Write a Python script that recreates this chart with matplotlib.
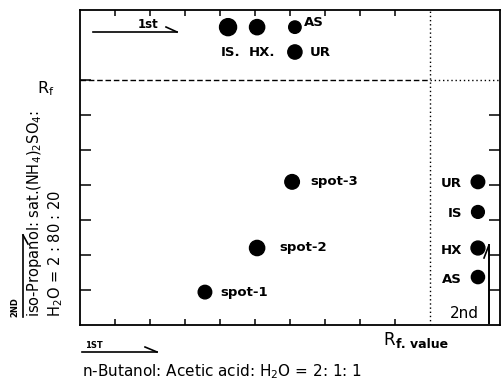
import matplotlib
matplotlib.use("Agg")
import matplotlib.pyplot as plt
from matplotlib.lines import Line2D

# ---- data (Rf values) ----
spot_names = ["spot-1", "spot-2", "spot-3"]
spot_x = [0.357, 0.506, 0.606]
spot_y = [0.094, 0.220, 0.409]

top_std_names = ["IS", "HX", "AS", "UR"]
top_std_x = [0.423, 0.506, 0.614, 0.614]
top_std_y = [0.851, 0.851, 0.851, 0.780]

right_std_names = ["UR", "IS", "HX", "AS"]
right_std_x = [1.137, 1.137, 1.137, 1.137]
right_std_y = [0.409, 0.323, 0.220, 0.137]

x_ticks = [0.1, 0.2, 0.3, 0.4, 0.5, 0.6, 0.7, 0.8, 0.9]
y_ticks = [0.1, 0.2, 0.3, 0.4, 0.5, 0.6, 0.7]
right_ticks = [0.1, 0.2, 0.3, 0.4, 0.5, 0.6]
solvent_front_1st = 1.0
solvent_front_2nd = 0.7

W, H = 502, 382
fig = plt.figure(figsize=(W / 100, H / 100), dpi=100)
plt.rcParams['font.family'] = ['DejaVu Sans']

def fx(x):
    return x / W

def fy(y):
    return 1 - y / H

ax = fig.add_axes([fx(80), fy(325), (500 - 80) / W, (325 - 10) / H])
ax.set_xlim(0, 1.2)
ax.set_ylim(0, 0.9)
for s in ax.spines.values():
    s.set_linewidth(1.3)

ax.set_xticks(x_ticks)
ax.set_yticks(y_ticks)
ax.tick_params(axis='x', direction='in', length=4, width=1.1, top=True, bottom=True,
               labelbottom=False)
ax.tick_params(axis='y', direction='in', length=8, width=1.1, left=True, right=False,
               labelleft=False)

# right-side ticks
axr = ax.twinx()
axr.set_ylim(0, 0.9)
axr.set_yticks(right_ticks)
axr.tick_params(axis='y', direction='in', length=8, width=1.1, labelright=False)
for s in axr.spines.values():
    s.set_visible(False)

# solvent fronts
ax.axvline(solvent_front_1st, color='black', lw=1.0, ls=(0, (1, 2)))
ax.plot([0, solvent_front_1st], [solvent_front_2nd, solvent_front_2nd], color='black',
        lw=1.0, ls=(0, (4, 2)))
ax.plot([solvent_front_1st, 1.2], [solvent_front_2nd, solvent_front_2nd], color='black',
        lw=1.0, ls=(0, (1, 2)))

# spots
ax.scatter(spot_x, spot_y, s=[95, 120, 110], c='black', zorder=3)
ax.scatter(top_std_x, top_std_y, s=[150, 120, 80, 105], c='black', zorder=3)
ax.scatter(right_std_x, right_std_y, s=[95, 85, 100, 90], c='black', zorder=3)

fs = 9.5
spot_off = [15, 22, 18]
for n, x, y, o in zip(spot_names, spot_x, spot_y, spot_off):
    ax.annotate(n, (x, y), xytext=(o, 0), textcoords='offset pixels',
                ha='left', va='center', fontsize=fs, fontweight='bold')

# top standards labels
top_offsets = [(3, -25, 'center'), (5, -25, 'center'), (9, 5, 'left'), (15, 0, 'left')]
top_labels = ["IS.", "HX.", "AS", "UR"]
for lab, x, y, (ox, oy, ha) in zip(top_labels, top_std_x, top_std_y, top_offsets):
    ax.annotate(lab, (x, y), xytext=(ox, oy), textcoords='offset pixels',
                ha=ha, va='center', fontsize=fs, fontweight='bold')

for n, x, y in zip(right_std_names, right_std_x, right_std_y):
    ax.annotate(n, (x, y), xytext=(-16, -2), textcoords='offset pixels',
                ha='right', va='center', fontsize=fs, fontweight='bold')

# ---- free text ----
fig.text(fx(37), fy(89), r'R$_\mathregular{f}$', fontsize=11.5, ha='left', va='center')
fig.text(fx(383), fy(340), 'R', fontsize=12, ha='left', va='center')
fig.text(fx(396), fy(345), 'f. value', fontsize=9, ha='left', va='center', fontweight='bold')
fig.text(fx(82), fy(372), r'n-Butanol: Acetic acid: H$_\mathregular{2}$O = 2: 1: 1',
         fontsize=11, ha='left', va='center')
fig.text(fx(85), fy(345), '1ST', fontsize=6, ha='left', va='center', fontweight='bold')
fig.text(fx(138), fy(24), '1st', fontsize=8.5, ha='left', va='center', fontweight='bold')
fig.text(fx(450), fy(313), '2nd', fontsize=11, ha='left', va='center')

fig.text(fx(15), fy(317), '2ND', fontsize=6, rotation=90, rotation_mode='anchor',
         ha='left', va='center', fontweight='bold')
fig.text(fx(35), fy(317), r'iso-Propanol: sat.(NH$_\mathregular{4}$)$_\mathregular{2}$SO$_\mathregular{4}$:',
         fontsize=10.5, rotation=90, rotation_mode='anchor', ha='left', va='center')
fig.text(fx(56), fy(317), r'H$_\mathregular{2}$O = 2 : 80 : 20',
         fontsize=10.5, rotation=90, rotation_mode='anchor', ha='left', va='center')

def seg(x0, y0, x1, y1, lw=1.2):
    fig.add_artist(Line2D([fx(x0), fx(x1)], [fy(y0), fy(y1)], color='black', lw=lw,
                          transform=fig.transFigure))

# arrows
seg(82, 352, 157, 352)
seg(157, 352, 145, 347)
seg(93, 32, 177, 32)
seg(177, 32, 166, 27)
seg(23, 317, 23, 235)
seg(23, 235, 28, 244)
seg(489, 323, 489, 245, lw=1.4)
seg(489, 245, 484, 258)

fig.savefig('out.png', dpi=100)
